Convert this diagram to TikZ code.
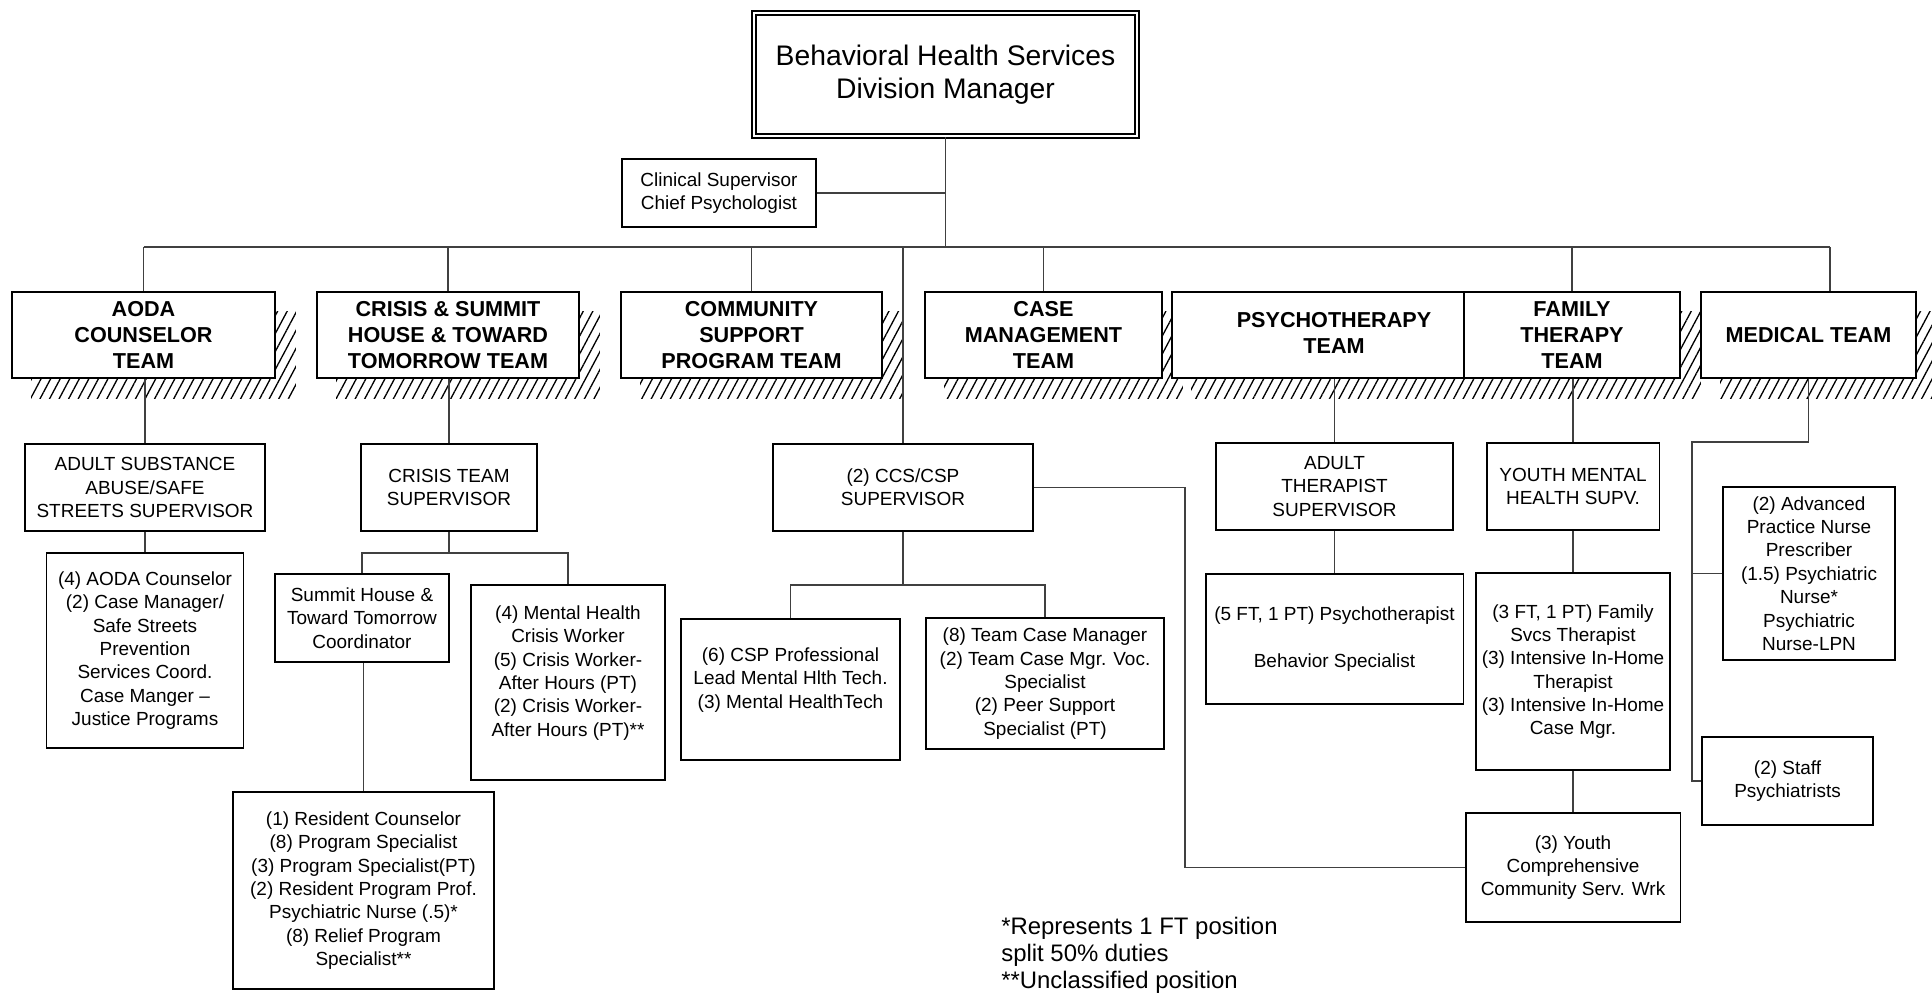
\documentclass[tikz,border=0pt]{standalone}
\usepackage{fontspec}
\setmainfont{Liberation Sans}
\usetikzlibrary{positioning,patterns.meta,backgrounds}

\begin{document}
\begin{tikzpicture}[
      x=0.02cm, y=-0.02cm,
      box/.style={draw, fill=white, line width=1.1pt, inner sep=0pt, align=center, font=\fontsize{10.8}{13.3}\selectfont},
      teamlbl/.style={align=center, inner sep=0pt, font=\fontsize{12.3}{14.8}\selectfont\bfseries},
      team/.style={box, teamlbl, minimum height=1.72cm},
      sup/.style={box, minimum height=1.74cm},
      mgr/.style={box, double, double distance=1.3pt, font=\fontsize{16.1}{18.8}\selectfont},
      conn/.style={draw=black!75, line width=0.75pt},
      hatch/.style={pattern={Lines[angle=62, distance=4.8pt, line width=0.75pt]}},
      note/.style={align=left, inner sep=0pt, font=\fontsize{13.6}{15.4}\selectfont}
  ]
    \useasboundingbox (0,0) rectangle (1932,995);
    \node[mgr, minimum width=7.66cm, minimum height=2.46cm] (mgr) at (945.5,74.5) {Behavioral Health Services\\Division Manager};
    \node[box, minimum width=3.88cm, minimum height=1.36cm] (clin) at (719,193) {Clinical Supervisor\\Chief Psychologist};
    \node[team, minimum width=5.26cm] (aoda) at (143.5,335) {AODA\\COUNSELOR\\TEAM};
    \node[team, minimum width=5.24cm] (crisisteam) at (448,335) {CRISIS \& SUMMIT\\HOUSE \& TOWARD\\TOMORROW TEAM};
    \node[team, minimum width=5.22cm] (community) at (751.5,335) {COMMUNITY\\SUPPORT\\PROGRAM TEAM};
    \node[team, minimum width=4.74cm] (casemgmt) at (1043.5,335) {CASE\\MANAGEMENT\\TEAM};
    \node[team, minimum width=5.84cm] (psych) at (1318,335) {};
    \node[teamlbl] (psychlbl) at (1334,333) {PSYCHOTHERAPY\\TEAM};
    \node[team, minimum width=4.32cm] (family) at (1572,335) {FAMILY\\THERAPY\\TEAM};
    \node[team, minimum width=4.30cm] (medical) at (1808.5,335) {MEDICAL TEAM};
    \node[sup, minimum width=4.80cm] (adultsub) at (145,487.5) {ADULT SUBSTANCE\\ABUSE/SAFE\\STREETS SUPERVISOR};
    \node[sup, minimum width=3.52cm] (crisissup) at (449,487.5) {CRISIS TEAM\\SUPERVISOR};
    \node[sup, minimum width=5.20cm] (ccssup) at (903,487.5) {(2) CCS/CSP\\SUPERVISOR};
    \node[sup, minimum width=4.74cm] (adultther) at (1334.5,486.5) {ADULT\\THERAPIST\\SUPERVISOR};
    \node[sup, minimum width=3.46cm] (youthsup) at (1573,486.5) {YOUTH MENTAL\\HEALTH SUPV.};
    \node[box, minimum width=3.44cm, minimum height=3.46cm] (advnurse) at (1809,573.5) {(2) Advanced\\Practice Nurse\\Prescriber\\(1.5) Psychiatric\\Nurse*\\Psychiatric\\Nurse-LPN};
    \node[box, minimum width=3.94cm, minimum height=3.90cm] (aodacoun) at (145,650.5) {(4) AODA Counselor\\(2) Case Manager/\\Safe Streets\\Prevention\\Services Coord.\\Case Manger --\\Justice Programs};
    \node[box, minimum width=3.48cm, minimum height=1.76cm] (summit) at (362,618) {Summit House \&\\Toward Tomorrow\\Coordinator};
    \node[box, minimum width=3.88cm, minimum height=3.90cm] (crisiswork) at (568,682.5) {(4) Mental Health\\Crisis Worker\\(5) Crisis Worker-\\After Hours (PT)\\(2) Crisis Worker-\\After Hours (PT)**\\ \mbox{}};
    \node[box, minimum width=5.22cm, minimum height=3.94cm] (resident) at (363.5,890.5) {(1) Resident Counselor\\(8) Program Specialist\\(3) Program Specialist(PT)\\(2) Resident Program Prof.\\Psychiatric Nurse (.5)*\\(8) Relief Program\\Specialist**};
    \node[box, minimum width=4.38cm, minimum height=2.82cm] (cspprof) at (790.5,689.5) {(6) CSP Professional\\Lead Mental Hlth Tech.\\(3) Mental HealthTech\\ \mbox{}};
    \node[box, minimum width=4.76cm, minimum height=2.62cm] (teamcase) at (1045,683.5) {(8) Team Case Manager\\(2) Team Case Mgr. Voc.\\Specialist\\(2) Peer Support\\Specialist (PT)};
    \node[box, minimum width=5.16cm, minimum height=2.60cm] (psychther) at (1334.5,639) {(5 FT, 1 PT) Psychotherapist\\ \mbox{}\\Behavior Specialist};
    \node[box, minimum width=3.88cm, minimum height=3.94cm] (familysvcs) at (1573,671.5) {(3 FT, 1 PT) Family\\Svcs Therapist\\(3) Intensive In-Home\\Therapist\\(3) Intensive In-Home\\Case Mgr.};
    \node[box, minimum width=4.30cm, minimum height=2.18cm] (youthcomp) at (1573,867.5) {(3) Youth\\Comprehensive\\Community Serv. Wrk};
    \node[box, minimum width=3.42cm, minimum height=1.76cm] (staffpsych) at (1787.5,781) {(2) Staff\\Psychiatrists};
    \node[note, anchor=west] (legend) at (1001,955) {*Represents 1 FT position\\split 50\% duties\\**Unclassified position};
    \begin{scope}[on background layer]
      \foreach \tm in {aoda,crisisteam,community,casemgmt,psych,family,medical}
        \path[hatch] ([shift={(20,20)}]\tm.south west) rectangle ([shift={(20,20)}]\tm.north east);
    \end{scope}
    \coordinate (busl) at (143.5,247);
    \coordinate (busr) at (1830,247);
    \draw[conn] (mgr.south) -- (mgr.south |- busl);
    \draw[conn] (clin.east) -- (clin.east -| mgr.south);
    \draw[conn] (busl) -- (busr);
    \foreach \tm in {aoda,crisisteam,community,casemgmt,family}
      \draw[conn] (\tm.north) -- (\tm.north |- busl);
    \draw[conn] (busr) -- (busr |- medical.north);
    \draw[conn] (ccssup.north) -- (ccssup.north |- busl);
    \draw[conn] (adultsub.north) -- (adultsub.north |- aoda.south);
    \draw[conn] (adultsub.south) -- (aodacoun.north);
    \draw[conn] (crisissup.north) -- (crisissup.north |- crisisteam.south);
    \coordinate (crisisbus) at (449,553);
    \draw[conn] (crisissup.south) -- (crisisbus);
    \draw[conn] (summit.north) |- (crisisbus) -| (crisiswork.north);
    \draw[conn] (resident.north) -- (resident.north |- summit.south);
    \coordinate (ccsbus) at (903,585);
    \draw[conn] (ccssup.south) -- (ccsbus);
    \draw[conn] (cspprof.north) |- (ccsbus) -| (teamcase.north);
    \coordinate (ccsturn) at (1185,867.5);
    \draw[conn] (ccssup.east) -| (ccsturn) -- (youthcomp.west);
    \draw[conn] (adultther.north) -- (adultther.north |- psych.south);
    \draw[conn] (adultther.south) -- (psychther.north);
    \draw[conn] (youthsup.north) -- (youthsup.north |- family.south);
    \draw[conn] (youthsup.south) -- (familysvcs.north);
    \draw[conn] (familysvcs.south) -- (youthcomp.north);
    \coordinate (medturn) at (1692,442);
    \draw[conn] (medical.south) |- (medturn) |- (staffpsych.west);
    \draw[conn] (medturn |- advnurse.west) -- (advnurse.west);
  \end{tikzpicture}
\end{document}
